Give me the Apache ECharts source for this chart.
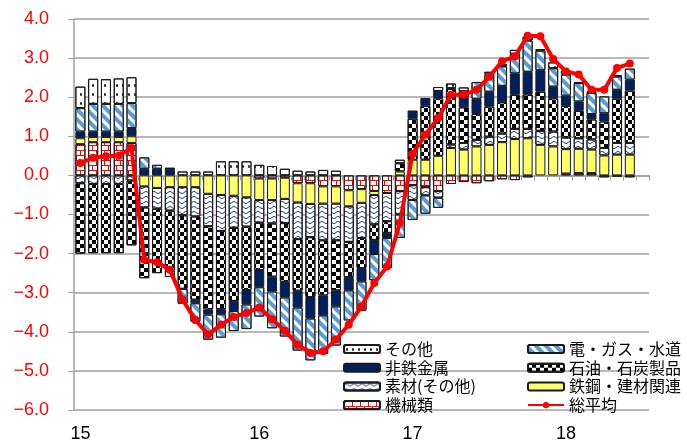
<!DOCTYPE html>
<html>
<head>
<meta charset="utf-8">
<script src="https://cdn.jsdelivr.net/npm/echarts@6/dist/echarts.min.js"></script>
<style>
  html, body { margin: 0; padding: 0; background: #fff; }
  #chart { width: 687px; height: 446px; }
</style>
</head>
<body>
<div id="chart"></div>
<script>
// x軸: 45区分（最後の1つは空）、年ラベルの位置
const categoryCount = 45
const tickIndex = [0, 14, 26, 38]
const tickText = ['15', '16', '17', '18']

// 寄与度（%ポイント）
const kikai = [0.80, 0.85, 0.85, 0.85, 0.83, 0, 0, 0, 0, 0, 0, 0, 0, 0, -0.08, -0.08, -0.06, -0.20, -0.20, -0.28, -0.28, -0.38, -0.35, -0.40, -0.45, -0.40, -0.25, -0.30, -0.40, -0.22, -0.17, -0.20, -0.15, -0.10, -0.12, -0.05, 0, 0, 0.05, 0.06, 0.06, -0.05, -0.03, -0.05]
const tekko = [0.15, 0.13, 0.13, 0.13, 0.17, -0.28, -0.32, -0.30, -0.30, -0.30, -0.47, -0.50, -0.52, -0.56, -0.55, -0.55, -0.54, -0.49, -0.53, -0.44, -0.44, -0.41, -0.35, -0.10, 0, 0.10, 0.40, 0.40, 0.50, 0.70, 0.66, 0.74, 0.78, 0.85, 0.93, 0.95, 0.78, 0.74, 0.62, 0.62, 0.60, 0.51, 0.53, 0.53]
const sozai = [-0.20, -0.22, -0.22, -0.22, -0.13, -0.54, -0.53, -0.60, -0.72, -0.75, -0.83, -0.92, -0.82, -0.75, -0.58, -0.60, -0.62, -0.94, -0.85, -0.94, -0.94, -0.91, -0.90, -0.75, -0.72, -0.60, -0.38, -0.21, -0.17, 0.09, 0.17, 0.17, 0.21, 0.22, 0.26, 0.24, 0.36, 0.38, 0.30, 0.27, 0.26, 0.19, 0.30, 0.30]
const sekiyu = [-1.80, -1.77, -1.77, -1.77, -1.66, -1.81, -1.65, -1.53, -1.88, -2.13, -2.13, -2.00, -1.87, -1.62, -1.21, -1.36, -1.50, -1.32, -1.53, -1.41, -1.28, -0.90, -0.77, -0.40, -0.30, 0.21, 1.05, 1.38, 1.47, 1.42, 0.91, 0.66, 0.77, 0.80, 0.87, 0.88, 1.00, 0.85, 0.81, 0.70, 0.51, 0.68, 1.13, 1.34]
const hitetsu = [0.17, 0.14, 0.14, 0.14, 0.21, 0.17, 0.17, 0.17, 0, -0.09, -0.13, -0.13, -0.26, -0.37, -0.44, -0.38, -0.40, -0.43, -0.55, -0.51, -0.41, -0.34, -0.34, -0.36, -0.13, 0, 0.21, 0.20, 0.19, 0.02, 0.26, 0.39, 0.38, 0.42, 0.55, 0.58, 0.55, 0.30, 0.26, 0.24, 0.14, 0.21, 0.23, 0.28]
const denki = [0.60, 0.71, 0.71, 0.71, 0.64, 0.29, 0.10, -0.17, -0.38, -0.47, -0.64, -0.60, -0.51, -0.63, -0.75, -0.94, -1.00, -1.10, -1.07, -0.98, -1.00, -0.77, -0.75, -0.67, -0.77, -0.60, -0.51, -0.47, -0.26, 0, 0.15, 0.43, 0.44, 0.50, 0.50, 0.80, 0.50, 0.47, 0.54, 0.47, 0.54, 0.43, 0.34, 0.28]
const sonota = [0.55, 0.64, 0.63, 0.65, 0.66, 0, 0, 0.02, 0.10, 0.10, 0.10, 0.36, 0.36, 0.36, 0.27, 0.24, 0.17, 0.12, 0.10, 0.14, 0.12, 0, 0, 0, 0, 0.09, 0, 0, 0.10, 0.12, 0.10, 0, 0.07, 0.06, 0.10, 0.10, 0.04, 0.15, 0.10, 0.03, 0.04, 0, 0.03, 0]
const souheikin = [0.32, 0.45, 0.49, 0.50, 0.70, -2.16, -2.22, -2.41, -3.18, -3.70, -4.07, -3.82, -3.62, -3.52, -3.38, -3.68, -3.97, -4.33, -4.54, -4.50, -4.20, -3.82, -3.35, -2.75, -2.33, -1.22, 0.55, 1.04, 1.47, 2.06, 2.06, 2.19, 2.52, 2.92, 3.04, 3.57, 3.56, 2.98, 2.66, 2.58, 2.19, 2.19, 2.75, 2.86]

const categories = []
for (let i = 0; i < categoryCount; i++) {
  const k = tickIndex.indexOf(i)
  categories.push(k >= 0 ? tickText[k] : '')
}

const gray = '#a0a0a0'
const jpFont = '"Noto Sans CJK JP", sans-serif'

const decals = {
  brick: {
    symbol: 'path://M0,0H8V1H0Z M0,1H1V5H0Z M0,5H8V6H0Z M4,6H5V10H4Z',
    symbolSize: 1, dashArrayX: [8, 0], dashArrayY: [10, 0], color: '#ff0000'
  },
  wave: {
    symbol: 'path://M0,2 Q2,0 4,2 Q6,4 8,2 L8,3.2 Q6,5.2 4,3.2 Q2,1.2 0,3.2 Z',
    symbolSize: 1, dashArrayX: [8, 0], dashArrayY: [5, 0], color: '#1f3c88'
  },
  checker: {
    symbol: 'rect', symbolSize: 1,
    dashArrayX: [[4, 4], [0, 4, 4, 0]], dashArrayY: [4, 0], color: '#000000'
  },
  stripe: {
    symbol: 'rect', symbolSize: 1,
    dashArrayX: [1, 0], dashArrayY: [3.5, 3], rotation: Math.PI / 4, color: '#5b9bd5'
  },
  dots: {
    symbol: 'rect', symbolSize: 0.28,
    dashArrayX: [6, 0], dashArrayY: [9, 0], color: '#000000'
  }
}

function bar (name, data, color, decal) {
  const itemStyle = { color: color, borderColor: '#1a1a1a', borderWidth: 1 }
  if (decal) itemStyle.decal = decal
  return {
    name: name,
    type: 'bar',
    stack: 'total',
    barWidth: 10,
    data: data.map(v => (v === 0 ? '-' : v)),
    itemStyle: itemStyle
  }
}

const series = [
  bar('機械類', kikai, '#ffffff', decals.brick),
  bar('鉄鋼・建材関連', tekko, '#ffff66'),
  bar('素材(その他)', sozai, '#ffffff', decals.wave),
  bar('石油・石炭製品', sekiyu, '#ffffff', decals.checker),
  bar('非鉄金属', hitetsu, '#002060'),
  bar('電・ガス・水道', denki, '#ffffff', decals.stripe),
  bar('その他', sonota, '#ffffff', decals.dots),
  {
    name: '総平均',
    type: 'line',
    data: souheikin,
    z: 10,
    symbol: 'circle',
    symbolSize: 8,
    lineStyle: { color: '#ff0000', width: 4 },
    itemStyle: { color: '#ff0000' }
  }
]

const legendText = { fontFamily: jpFont, fontSize: 16, color: '#000', lineHeight: 16 }

const option = {
  animation: false,
  backgroundColor: '#ffffff',
  grid: { left: 74, right: 38, top: 19, bottom: 36, outerBoundsMode: 'none' },
  legend: [
    {
      orient: 'vertical', left: 343, top: 341, padding: 0,
      itemWidth: 36, itemHeight: 8, itemGap: 2.7,
      textStyle: legendText,
      data: ['その他', '非鉄金属', '素材(その他)', '機械類']
    },
    {
      orient: 'vertical', left: 527, top: 341, padding: 0,
      itemWidth: 36, itemHeight: 8, itemGap: 2.7,
      textStyle: legendText,
      data: ['電・ガス・水道', '石油・石炭製品', '鉄鋼・建材関連', '総平均']
    }
  ],
  xAxis: [
    {
      type: 'category',
      data: categories,
      axisLine: { onZero: true, lineStyle: { color: gray, width: 1.5 } },
      axisTick: { show: true, interval: 0, length: 5, lineStyle: { color: gray } },
      axisLabel: { show: false },
      splitLine: { show: false }
    },
    {
      type: 'category',
      data: categories,
      position: 'bottom',
      axisLine: { show: false, onZero: false },
      axisTick: { show: false },
      axisLabel: { interval: 0, margin: 15, fontSize: 18, color: '#000', fontFamily: 'Liberation Sans' },
      splitLine: { show: false }
    }
  ],
  yAxis: {
    type: 'value',
    min: -6,
    max: 4,
    interval: 1,
    axisLine: { show: true, lineStyle: { color: gray, width: 1.5 } },
    axisTick: { show: true, length: 6, lineStyle: { color: gray } },
    axisLabel: {
      margin: 25,
      fontSize: 18,
      color: '#ff0000',
      fontFamily: 'Liberation Sans',
      formatter: v => (v < 0 ? '\u2212' : '') + Math.abs(v).toFixed(1)
    },
    splitLine: { lineStyle: { color: gray, width: 1.5 } }
  },
  series: series
}

const chart = echarts.init(document.getElementById('chart'))
chart.setOption(option)
</script>
</body>
</html>
